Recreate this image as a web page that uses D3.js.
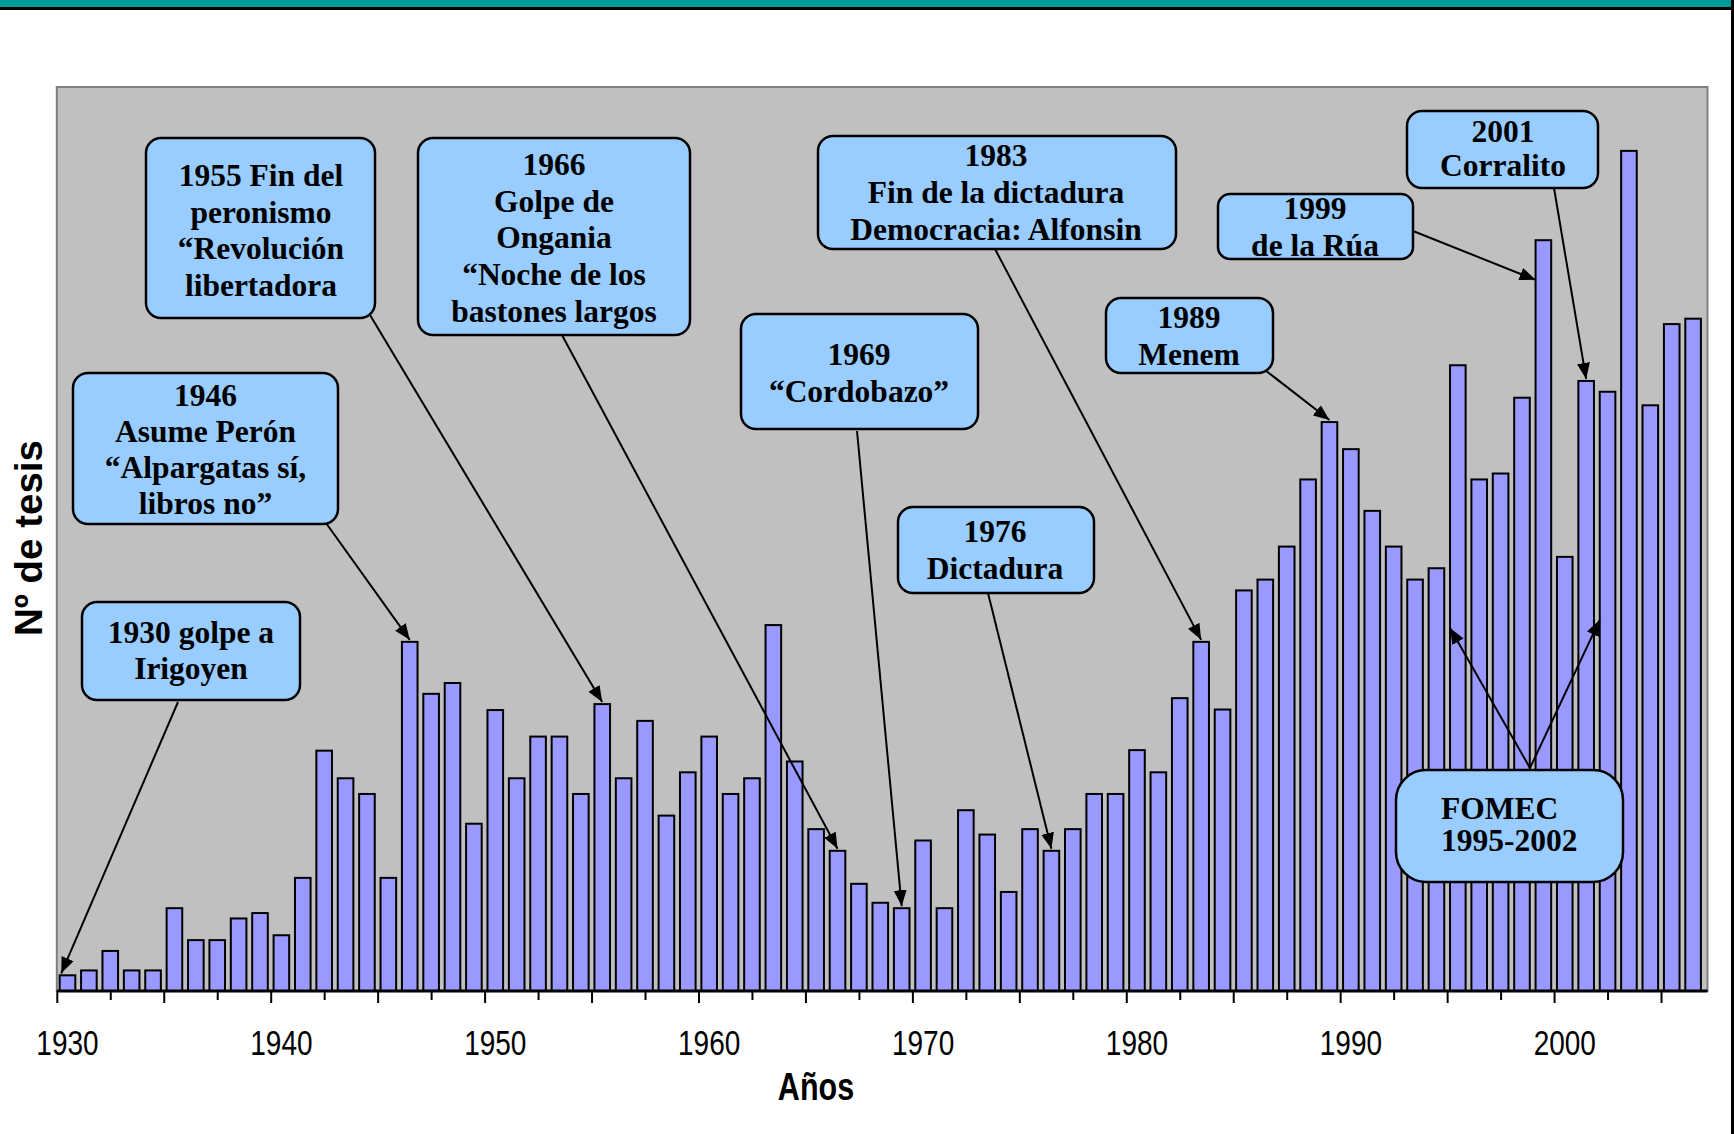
<!DOCTYPE html>
<html>
<head>
<meta charset="utf-8">
<script src="https://cdn.jsdelivr.net/npm/d3@7"></script>
<style>
  body { margin: 0; background: #fff; }
  .axis text { font-family: "Liberation Sans", Arial, sans-serif; }
  .note text { font-family: "Liberation Serif", "Times New Roman", serif; font-weight: bold; font-size: 31.5px; }
</style>
</head>
<body>
<div id="chart-area"></div>
<script>
/*
*    tesis por año
*/

// Data
var years = [1930, 1931, 1932, 1933, 1934, 1935, 1936, 1937, 1938, 1939,
    1940, 1941, 1942, 1943, 1944, 1945, 1946, 1947, 1948, 1949,
    1950, 1951, 1952, 1953, 1954, 1955, 1956, 1957, 1958, 1959,
    1960, 1961, 1962, 1963, 1964, 1965, 1966, 1967, 1968, 1969,
    1970, 1971, 1972, 1973, 1974, 1975, 1976, 1977, 1978, 1979,
    1980, 1981, 1982, 1983, 1984, 1985, 1986, 1987, 1988, 1989,
    1990, 1991, 1992, 1993, 1994, 1995, 1996, 1997, 1998, 1999,
    2000, 2001, 2002, 2003, 2004, 2005, 2006];
var tesis = [2.9, 3.8, 7.4, 3.8, 3.8, 15.3, 9.4, 9.4, 13.4, 14.4,
    10.3, 20.9, 44.4, 39.3, 36.4, 20.9, 64.5, 54.9, 56.9, 30.9,
    51.9, 39.3, 47.0, 47.0, 36.4, 53.0, 39.3, 49.9, 32.4, 40.4,
    47.0, 36.4, 39.3, 67.6, 42.4, 29.9, 25.9, 19.8, 16.3, 15.3,
    27.8, 15.3, 33.4, 28.9, 18.3, 29.9, 25.9, 29.9, 36.4, 36.4,
    44.5, 40.4, 54.1, 64.5, 52.0, 74.0, 76.0, 82.1, 94.5, 105.1,
    100.1, 88.7, 82.1, 76.0, 78.1, 115.6, 94.5, 95.6, 109.6, 138.7,
    80.2, 112.7, 110.7, 155.2, 108.2, 123.2, 124.2];
var labelYears = [1930, 1940, 1950, 1960, 1970, 1980, 1990, 2000];

// Callouts: text lines and the year each arrow points to
var notes = [
    { lines: ["1930 golpe a", "Irigoyen"], targets: [{ year: 1930, fx: 0.1 }],
      box: [82, 602, 218, 98], r: 15, tx: 191, ty: 643, lh: 36, from: [178, 702] },
    { lines: ["1946", "Asume Perón", "\u201cAlpargatas sí,", "libros no\u201d"], targets: [{ year: 1946 }],
      box: [73, 373, 265, 151], r: 15, tx: 205.5, ty: 406, lh: 36, from: [326, 523] },
    { lines: ["1955 Fin del", "peronismo", "\u201cRevolución", "libertadora"], targets: [{ year: 1955 }],
      box: [146, 138, 229, 180], r: 15, tx: 261, ty: 186, lh: 36.5, from: [370, 315] },
    { lines: ["1966", "Golpe de", "Ongania", "\u201cNoche de los", "bastones largos"], targets: [{ year: 1966 }],
      box: [418, 138, 272, 197], r: 15, tx: 554, ty: 175, lh: 36.7, from: [562, 335] },
    { lines: ["1969", "\u201cCordobazo\u201d"], targets: [{ year: 1969 }],
      box: [741, 314, 237, 115], r: 15, tx: 859, ty: 365, lh: 37, from: [857, 431] },
    { lines: ["1976", "Dictadura"], targets: [{ year: 1976 }],
      box: [898, 507, 196, 86], r: 15, tx: 995, ty: 542, lh: 36.5, from: [988, 593] },
    { lines: ["1983", "Fin de la dictadura", "Democracia: Alfonsin"], targets: [{ year: 1983 }],
      box: [818, 136, 358, 113], r: 15, tx: 996, ty: 166, lh: 37, from: [995, 249] },
    { lines: ["1989", "Menem"], targets: [{ year: 1989 }],
      box: [1106, 298, 167, 75], r: 15, tx: 1189, ty: 328, lh: 37, from: [1265, 370] },
    { lines: ["1999", "de la Rúa"], targets: [{ year: 1999, fx: 0, v: 131 }],
      box: [1218, 194, 195, 65], r: 12, tx: 1315, ty: 219, lh: 36.5, from: [1413, 231] },
    { lines: ["2001", "Corralito"], targets: [{ year: 2001 }],
      box: [1407, 111, 191, 77], r: 15, tx: 1503, ty: 142, lh: 33.5, from: [1554, 188] },
    { lines: ["FOMEC", "1995-2002"], targets: [{ year: 1995, fx: 0, v: 66.7 }, { year: 2002, fx: 0, v: 68.2 }],
      box: [1396, 770, 227, 112], r: 30, tx: 1441, ty: 819, lh: 32, from: [1530, 768], anchor: "start" }
];

var W = 1734, H = 1134;
// plot box, and the part of it that the 77 categories fill
var plotL = 56.8, plotR = 1707.5, plotT = 87, plotB = 991;
var catR = 1703.8;

var svg = d3.select("#chart-area")
    .append("svg")
    .attr("width", W)
    .attr("height", H);

// slide frame
svg.append("rect").attr("x", 0).attr("y", 0).attr("width", W).attr("height", 7).attr("fill", "#009999");
svg.append("rect").attr("x", 0).attr("y", 7).attr("width", W).attr("height", 3).attr("fill", "#000");
svg.append("rect").attr("x", W - 3).attr("y", 0).attr("width", 3).attr("height", H).attr("fill", "#000");

var defs = svg.append("defs");
defs.append("marker")
    .attr("id", "head")
    .attr("markerUnits", "userSpaceOnUse")
    .attr("viewBox", "0 -7 16 14")
    .attr("refX", 16).attr("refY", 0)
    .attr("markerWidth", 16).attr("markerHeight", 14)
    .attr("orient", "auto")
    .append("path")
    .attr("d", "M0,-6.5L16,0L0,6.5Z")
    .attr("fill", "#000");

// Scales
var x = d3.scaleBand().domain(years).range([plotL, catR]).paddingInner(0.27).paddingOuter(0.135);
var xLin = d3.scaleLinear().domain([1929.5, 2006.5]).range([plotL, catR]);
var y = d3.scaleLinear().domain([0, 167]).range([plotB, plotT]);

// plot background
svg.append("rect")
    .attr("x", plotL).attr("y", plotT)
    .attr("width", plotR - plotL).attr("height", plotB - plotT)
    .attr("fill", "#C0C0C0")
    .attr("stroke", "#808080")
    .attr("stroke-width", 2);

// Bars
var data = years.map(function(d, i) { return { year: d, v: tesis[i] }; });
svg.append("g").selectAll("rect")
    .data(data)
    .enter().append("rect")
    .attr("x", function(d) { return x(d.year); })
    .attr("y", function(d) { return y(d.v); })
    .attr("width", x.bandwidth())
    .attr("height", function(d) { return plotB - y(d.v); })
    .attr("fill", "#9999FF")
    .attr("stroke", "#000")
    .attr("stroke-width", 2);

// X-axis: major ticks every 5 years, minor in between, labels every 10
var majorCall = d3.axisBottom(xLin).tickValues(d3.range(1929.5, 2006, 5)).tickSize(12).tickSizeOuter(0).tickFormat("");
var minorCall = d3.axisBottom(xLin).tickValues(d3.range(1932, 2006, 5)).tickSize(9).tickSizeOuter(0).tickFormat("");
var labelCall = d3.axisBottom(x).tickValues(labelYears).tickSize(0);

var xMinor = svg.append("g").attr("class", "axis").attr("transform", "translate(0," + plotB + ")").call(minorCall);
xMinor.select(".domain").remove();
xMinor.selectAll("line").attr("stroke", "#000").attr("stroke-width", 2);

var xMajor = svg.append("g").attr("class", "axis").attr("transform", "translate(0," + plotB + ")").call(majorCall);
xMajor.select(".domain").remove();
xMajor.selectAll("line").attr("stroke", "#000").attr("stroke-width", 2);
xMajor.append("line")
    .attr("x1", plotL).attr("x2", plotR)
    .attr("stroke", "#000")
    .attr("stroke-width", 3);

var xLabels = svg.append("g").attr("class", "axis").attr("transform", "translate(0," + plotB + ")").call(labelCall);
xLabels.select(".domain").remove();
xLabels.selectAll("text")
    .attr("y", 0).attr("dy", 0)
    .attr("transform", "translate(0,64) scale(1,1.22)")
    .attr("font-size", "28px")
    .attr("fill", "#000");

// Labels
svg.append("text")
    .attr("transform", "translate(816,1100) scale(1,1.27)")
    .attr("text-anchor", "middle")
    .attr("font-family", "'Liberation Sans', Arial, sans-serif")
    .attr("font-weight", "bold")
    .attr("font-size", "30.5px")
    .text("Años");
svg.append("text")
    .attr("transform", "translate(41.5,538) rotate(-90)")
    .attr("text-anchor", "middle")
    .attr("font-family", "'Liberation Sans', Arial, sans-serif")
    .attr("font-weight", "bold")
    .attr("font-size", "38.5px")
    .text("Nº de tesis");

// Callouts
var note = svg.selectAll(".note")
    .data(notes)
    .enter().append("g")
    .attr("class", "note");

note.each(function(n) {
    var g = d3.select(this);
    n.targets.forEach(function(t) {
        var fx = (t.fx === undefined) ? 0.5 : t.fx;
        var v = (t.v === undefined) ? tesis[years.indexOf(t.year)] : t.v;
        g.append("line")
            .attr("x1", n.from[0]).attr("y1", n.from[1])
            .attr("x2", x(t.year) + x.bandwidth() * fx)
            .attr("y2", y(v) - 2)
            .attr("stroke", "#000")
            .attr("stroke-width", 2)
            .attr("marker-end", "url(#head)");
    });
    g.append("rect")
        .attr("x", n.box[0]).attr("y", n.box[1])
        .attr("width", n.box[2]).attr("height", n.box[3])
        .attr("rx", n.r).attr("ry", n.r)
        .attr("fill", "#99CCFF")
        .attr("stroke", "#000")
        .attr("stroke-width", 2.5);
    g.selectAll("text.line")
        .data(n.lines)
        .enter().append("text")
        .attr("class", "line")
        .attr("x", n.tx)
        .attr("y", function(d, i) { return n.ty + i * n.lh; })
        .attr("text-anchor", n.anchor || "middle")
        .text(function(d) { return d; });
});
</script>
</body>
</html>
